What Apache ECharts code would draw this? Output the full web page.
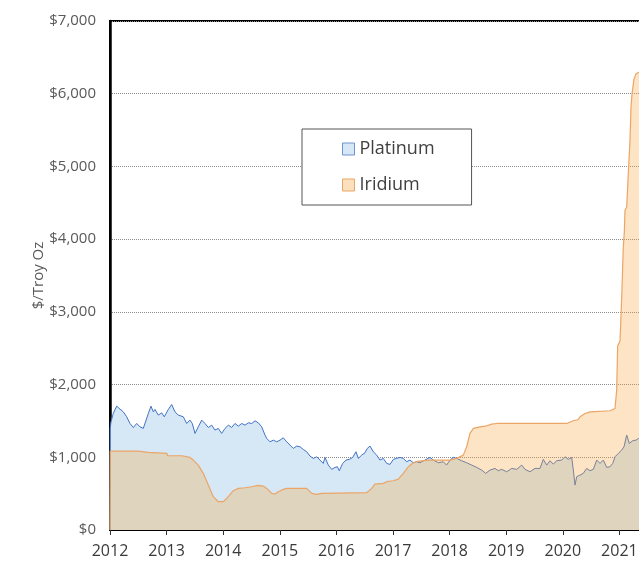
<!DOCTYPE html>
<html>
<head>
<meta charset="utf-8">
<script src="https://cdn.jsdelivr.net/npm/echarts@6/dist/echarts.min.js"></script>
<style>html,body{margin:0;padding:0;background:#fff;}#chart{width:639px;height:561px;}</style>
</head>
<body>
<div id="chart"></div>
<script>
// Decimal years (x) and $/troy oz values
const platinumYears = [2012.000,2012.004,2012.018,2012.058,2012.118,2012.177,2012.235,2012.295,2012.353,2012.412,2012.472,2012.530,2012.588,2012.618,2012.677,2012.724,2012.765,2012.795,2012.853,2012.913,2012.959,
2013.030,2013.090,2013.148,2013.207,2013.295,2013.355,2013.413,2013.454,2013.502,2013.560,2013.620,2013.678,2013.737,2013.797,2013.855,2013.913,2013.973,
2014.032,2014.090,2014.150,2014.208,2014.267,2014.327,2014.385,2014.443,2014.504,2014.562,2014.620,2014.680,2014.739,2014.769,2014.827,2014.885,2014.945,
2015.004,2015.062,2015.122,2015.180,2015.239,2015.299,2015.357,2015.415,2015.475,2015.534,2015.592,2015.652,2015.710,2015.768,2015.799,2015.857,2015.917,2015.975,
2016.016,2016.051,2016.111,2016.170,2016.228,2016.288,2016.346,2016.387,2016.447,2016.505,2016.546,2016.594,2016.652,2016.712,2016.770,2016.829,2016.889,2016.947,
2017.005,2017.065,2017.124,2017.182,2017.242,2017.300,2017.359,2017.419,2017.477,2017.565,2017.654,2017.712,2017.800,2017.888,2017.947,
2018.007,2018.065,2018.125,2018.214,2018.302,2018.390,2018.479,2018.567,2018.638,2018.714,2018.802,2018.860,2018.920,
2019.009,2019.097,2019.186,2019.274,2019.332,2019.420,2019.509,2019.597,2019.655,2019.716,2019.774,2019.832,2019.892,2019.981,
2020.039,2020.097,2020.157,2020.186,2020.216,2020.246,2020.304,2020.362,2020.422,2020.481,2020.539,2020.599,2020.657,2020.716,2020.776,2020.834,2020.882,2020.922,2020.981,
2021.041,2021.081,2021.129,2021.175,2021.235,2021.293,2021.341,2021.400,2021.450];
const platinumValues = [0,1400,1488,1605,1703,1662,1625,1557,1465,1410,1465,1419,1397,1383,1602,1703,1625,1658,1580,1611,1557,
1658,1726,1625,1580,1557,1465,1511,1465,1328,1419,1511,1465,1410,1442,1374,1397,1328,
1397,1442,1410,1465,1428,1465,1442,1474,1465,1502,1474,1419,1305,1259,1213,1236,1213,
1236,1268,1213,1168,1122,1154,1145,1108,1076,1016,985,1007,962,916,998,893,834,861,
870,815,916,962,971,998,1076,985,1030,1062,1122,1154,1076,1030,962,985,916,902,
971,985,998,985,939,962,925,939,925,962,998,962,925,939,893,
962,998,985,952,925,893,861,824,779,824,847,815,834,
801,847,834,893,834,801,847,847,971,893,952,907,952,962,
1007,971,998,824,618,733,755,779,847,815,834,962,916,962,861,870,916,1007,1053,
1099,1145,1305,1191,1227,1236,1259,1230,1200];

const iridiumYears = [2012.000,2012.005,2012.495,2012.512,2012.671,2012.680,2013.007,2013.016,2013.272,2013.281,2013.413,2013.472,2013.560,2013.648,2013.737,2013.825,2013.913,
2014.002,2014.090,2014.178,2014.267,2014.385,2014.504,2014.620,2014.708,2014.769,2014.857,2014.915,2014.973,
2015.062,2015.122,2015.475,2015.564,2015.652,2015.740,2016.535,2016.624,2016.682,2016.829,2016.889,
2017.005,2017.094,2017.182,2017.270,2017.359,2017.447,2017.654,2018.007,2018.125,2018.242,2018.302,2018.360,2018.419,2018.537,2018.655,2018.744,2018.832,
2020.069,2020.186,2020.274,2020.304,2020.392,2020.481,2020.834,2020.922,2020.952,2020.969,2021.011,2021.041,2021.069,2021.087,2021.099,2021.129,2021.157,2021.187,2021.205,2021.223,2021.246,2021.258,2021.293,2021.346,2021.400,2021.450];
const iridiumValues = [0,1085,1085,1067,1067,1053,1053,1021,1021,998,998,962,893,779,618,458,389,
389,458,540,572,581,595,613,604,572,504,495,527,
559,572,572,504,490,504,513,572,632,641,664,
677,700,779,870,925,948,962,962,985,1030,1145,1328,1397,1419,1433,1456,1465,
1465,1502,1520,1557,1602,1625,1640,1670,1923,2530,2600,3205,3892,4100,4396,4441,4900,5357,5815,6000,6000,6204,6273,6296,6300,6300];

const yTicks = [0,1000,2000,3000,4000,5000,6000,7000];
const xTickYears = [2012,2013,2014,2015,2016,2017,2018,2019,2020,2021,2022];

const pair = (xs, ys) => xs.map((x, i) => [x, ys[i]]);
const FONT = 'Open Sans';

const chart = echarts.init(document.getElementById('chart'), null, {renderer: 'canvas'});
chart.setOption({
  backgroundColor: '#ffffff',
  animation: false,
  grid: {
    left: 110, top: 21, width: 566, height: 509,
    containLabel: false, outerBoundsMode: 'none',
    show: true, borderColor: '#000', borderWidth: 2, backgroundColor: 'transparent'
  },
  legend: {
    orient: 'vertical',
    left: 302, top: 129,
    padding: [11, 37, 11, 40],
    itemGap: 18,
    itemWidth: 12, itemHeight: 12,
    backgroundColor: '#fff',
    borderColor: '#555', borderWidth: 1,
    textStyle: {fontFamily: FONT, fontSize: 18, color: '#404040', padding: [0, 0, 0, 0]},
    data: [
      {name: 'Platinum', icon: 'rect', itemStyle: {color: '#d6e8f6', borderColor: '#6f95cf', borderWidth: 1}},
      {name: 'Iridium', icon: 'rect', itemStyle: {color: '#fbe0bd', borderColor: '#eba566', borderWidth: 1}}
    ]
  },
  xAxis: {
    type: 'value',
    min: xTickYears[0], max: xTickYears[xTickYears.length - 1], interval: 1,
    axisLine: {show: true, onZero: false, lineStyle: {color: '#000', width: 2}},
    axisTick: {show: true, length: 5, lineStyle: {color: '#333', width: 1}},
    axisLabel: {fontFamily: FONT, fontSize: 16, color: '#3a3a3a', margin: 13, formatter: v => String(Math.round(v))},
    splitLine: {show: false}
  },
  yAxis: {
    type: 'value',
    min: yTicks[0], max: yTicks[yTicks.length - 1], interval: 1000,
    name: '$/Troy Oz', nameLocation: 'middle', nameGap: 64, nameMoveOverlap: false,
    nameTextStyle: {fontFamily: FONT, fontSize: 15, color: '#595959'},
    axisLine: {show: true, lineStyle: {color: '#000', width: 2.5}},
    axisTick: {show: false},
    axisLabel: {fontFamily: FONT, fontSize: 15, color: '#595959', margin: 14,
      formatter: v => '$' + v.toLocaleString('en-US')},
    splitLine: {show: true, lineStyle: {color: '#8c8c8c', type: [1, 1], width: 1}}
  },
  series: [
    {
      name: 'Platinum', type: 'line', data: pair(platinumYears, platinumValues),
      showSymbol: false, symbol: 'none',
      lineStyle: {color: '#4472c4', width: 1},
      itemStyle: {color: '#d6e8f6'},
      areaStyle: {color: '#d6e8f6', opacity: 1},
      z: 2
    },
    {
      name: 'Iridium', type: 'line', data: pair(iridiumYears, iridiumValues),
      showSymbol: false, symbol: 'none',
      lineStyle: {color: '#eba566', width: 1.2},
      itemStyle: {color: '#fbe0bd'},
      areaStyle: {color: 'rgba(245,165,58,0.3)', opacity: 1},
      z: 3
    }
  ]
});
</script>
</body>
</html>
